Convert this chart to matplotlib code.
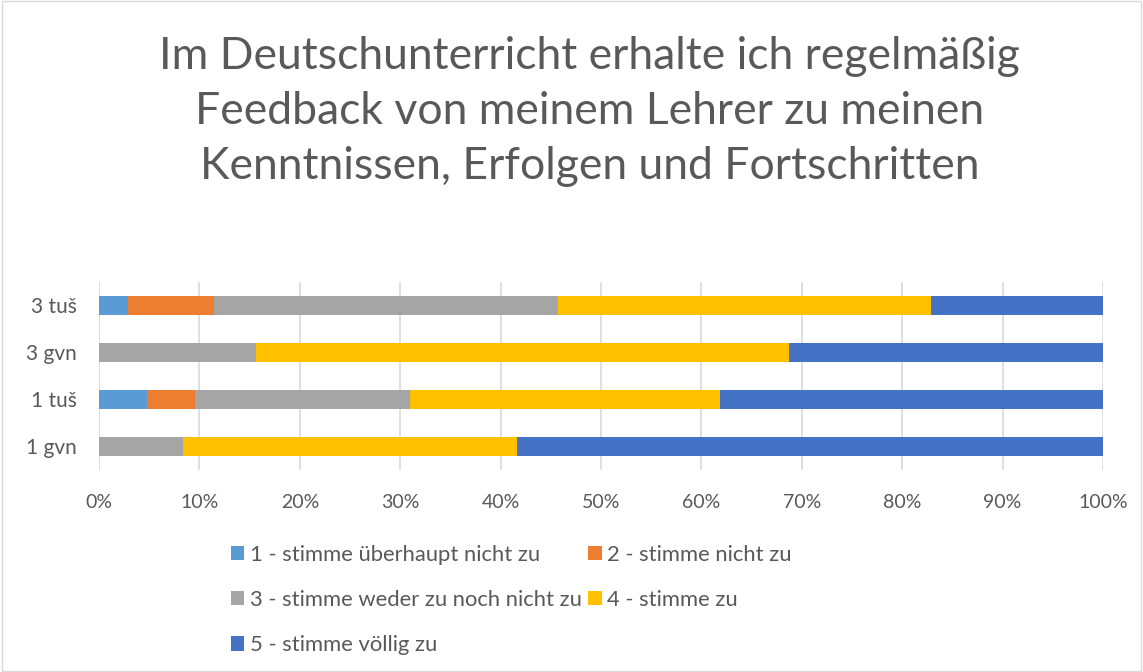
import numpy as np
import matplotlib.pyplot as plt
from matplotlib.patches import Rectangle

# Daten (Anteile in %)
groups = ['1 gvn', '1 tuš', '3 gvn', '3 tuš']
labels = ['1 - stimme überhaupt nicht zu', '2 - stimme nicht zu',
          '3 - stimme weder zu noch nicht zu', '4 - stimme zu',
          '5 - stimme völlig zu']
s1 = [0.0, 4.76, 0.0, 2.86]
s2 = [0.0, 4.76, 0.0, 8.57]
s3 = [8.33, 21.43, 15.63, 34.29]
s4 = [33.33, 30.95, 53.13, 37.14]
s5 = [58.33, 38.10, 31.25, 17.14]
colors = ['#5B9BD5', '#ED7D31', '#A5A5A5', '#FFC000', '#4472C4']
title = 'Im Deutschunterricht erhalte ich regelmäßig\nFeedback von meinem Lehrer zu meinen\nKenntnissen, Erfolgen und Fortschritten'

plt.rcParams['font.family'] = ['Lato', 'DejaVu Sans']
txt = '#595959'

fig = plt.figure(figsize=(11.43, 6.72), dpi=100)
fig.patches.append(Rectangle((0.002, 0.002), 0.996, 0.996, transform=fig.transFigure,
                             fill=False, edgecolor='#D9D9D9', lw=1))
ax = fig.add_axes([99 / 1143, 1 - 470 / 672, 1004 / 1143, 188 / 672])

y = np.arange(len(groups))
left = np.zeros(len(groups))
bars = []
for vals, lab, col in zip([s1, s2, s3, s4, s5], labels, colors):
    bars.append(ax.barh(y, vals, left=left, height=0.4, color=col, label=lab, zorder=3))
    left += np.array(vals)

ax.set_xlim(0, 100)
ax.set_ylim(-0.5, 3.5)
ax.set_yticks(y)
ax.set_yticklabels(groups)
ax.set_xticks(np.arange(0, 101, 10))
ax.set_xticklabels([f'{v}%' for v in range(0, 101, 10)])
ax.tick_params(length=0, colors=txt)
ax.tick_params(axis='y', pad=16, labelsize=15)
ax.tick_params(axis='x', pad=17, labelsize=14)
ax.grid(axis='x', color='#D9D9D9', lw=1.2, zorder=0)
for s in ax.spines.values():
    s.set_visible(False)

fig.text(0.516, 0.947, title, ha='center', va='top', fontsize=32, color=txt,
         linespacing=1.43)

# Legende zeilenweise wie im Original
order = [0, 2, 4, 1, 3]
leg = fig.legend([bars[i] for i in order], [labels[i] for i in order],
                 loc='upper left', bbox_to_anchor=(211 / 1143, 1 - 525 / 672), ncol=2,
                 frameon=False, fontsize=15.8, handlelength=0.62, handleheight=0.62,
                 handletextpad=0.25, columnspacing=0.3, labelspacing=1.15)
for t in leg.get_texts():
    t.set_color(txt)

fig.savefig('out.png', dpi=100)
